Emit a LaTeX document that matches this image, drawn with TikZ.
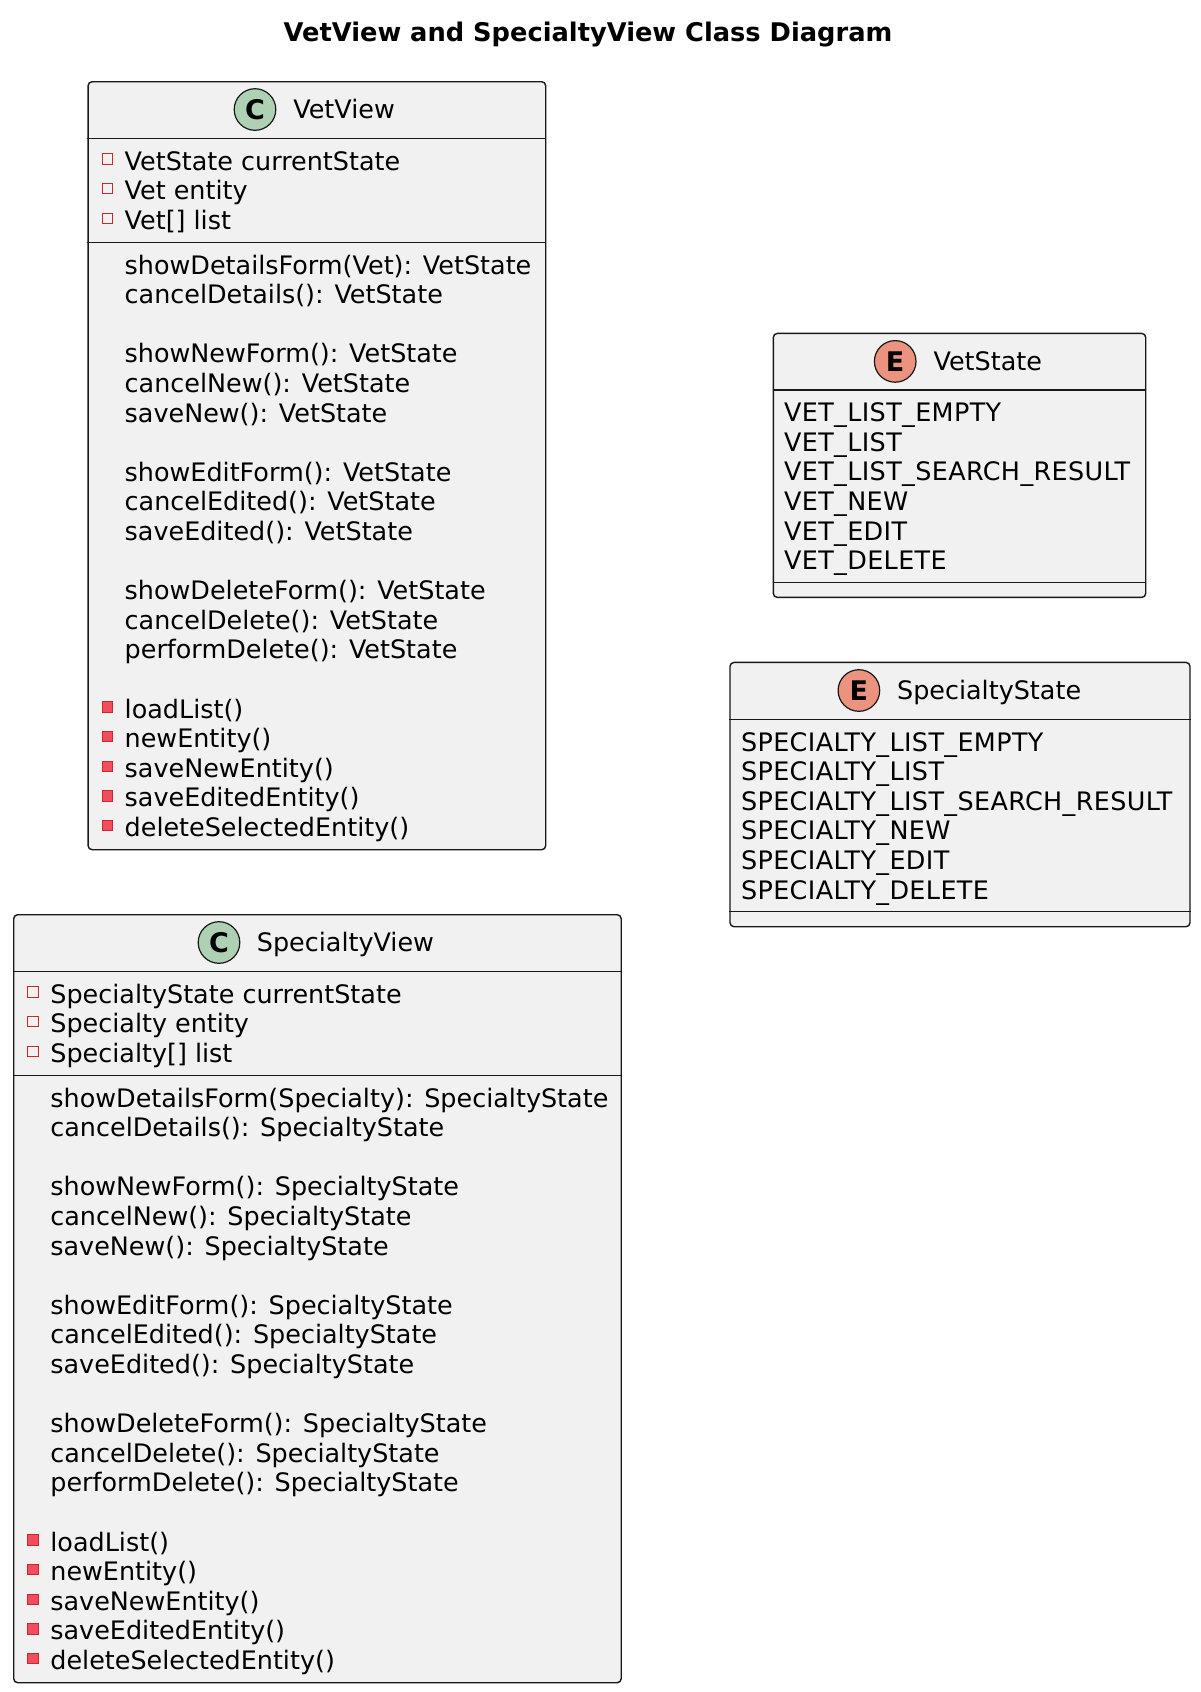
\documentclass[tikz,border=0pt]{standalone}
\usepackage{fontspec}
\setmainfont{DejaVu Sans}

\definecolor{umlfill}{HTML}{F1F1F1}
\definecolor{umlline}{HTML}{181818}
\definecolor{clsgreen}{HTML}{ADD1B2}
\definecolor{enumred}{HTML}{EB937F}
\definecolor{privred}{HTML}{C82930}
\definecolor{privfill}{HTML}{F24D5C}

\tikzset{
	umlbox/.style={draw=umlline, fill=umlfill, line width=0.7pt, rounded corners=2pt, anchor=north west, inner sep=0pt},
	sepline/.style={draw=umlline, line width=0.6pt},
	badge/.style={circle, draw=umlline, line width=0.6pt, minimum size=20.8pt, inner sep=0pt, font=\fontsize{13.5}{13.5}\selectfont\bfseries},
	clsbadge/.style={badge, fill=clsgreen},
	enumbadge/.style={badge, fill=enumred},
	member/.style={anchor=base west, inner sep=0pt, font=\fontsize{12.72}{14.8}\selectfont},
	constant/.style={member, font=\fontsize{12.72}{14.8}\selectfont\addfontfeatures{LetterSpace=1.5}},
	fieldicon/.style={draw=privred, fill=umlfill, line width=0.5pt, minimum size=5.2pt, inner sep=0pt},
	methicon/.style={draw=privred, fill=privfill, line width=0.5pt, minimum size=5.2pt, inner sep=0pt},
}

\begin{document}
\begin{tikzpicture}[x=0.5pt, y=-0.5pt]
		\useasboundingbox (0,0) rectangle (1200,1692);
		\node[anchor=base, inner sep=0pt, font=\fontsize{12.85}{14.8}\selectfont\bfseries] (title) at (588,41.7) {VetView and SpecialtyView Class Diagram};

		\node[umlbox, minimum width=228.8pt, minimum height=384pt] (vetview) at (87.4,81) {};
		\draw[sepline] (vetview.west |- 0,138.3) -- (vetview.east |- 0,138.3);
		\draw[sepline] (vetview.west |- 0,242.3) -- (vetview.east |- 0,242.3);
		\node[clsbadge] (vetviewC) at (255,109.5) {C};
		\node[member] (vetviewname) at (293,118.5) {VetView};
		\foreach \txt [count=\i from 0] in {VetState currentState, Vet entity, Vet[] list}{
			\node[fieldicon] (vvfi\i) at (107.5,159+\i*29.6) {};
			\node[member] (vvf\i) at (124.3,170+\i*29.6) {\txt};
		}
		\foreach \i/\txt in {0/showDetailsForm(Vet): VetState, 1/cancelDetails(): VetState,
			3/showNewForm(): VetState, 4/cancelNew(): VetState, 5/saveNew(): VetState,
			7/showEditForm(): VetState, 8/cancelEdited(): VetState, 9/saveEdited(): VetState,
			11/showDeleteForm(): VetState, 12/cancelDelete(): VetState, 13/performDelete(): VetState}
			\node[member] (vvm\i) at (124.3,274+\i*29.6) {\txt};
		\foreach \i/\txt in {15/loadList(), 16/newEntity(), 17/saveNewEntity(), 18/saveEditedEntity(), 19/deleteSelectedEntity()}{
			\node[methicon] (vvmi\i) at (107.5,263+\i*29.6) {};
			\node[member] (vvm\i) at (124.3,274+\i*29.6) {\txt};
		}

		\node[umlbox, minimum width=303.75pt, minimum height=384pt] (specview) at (13,914) {};
		\draw[sepline] (specview.west |- 0,971.3) -- (specview.east |- 0,971.3);
		\draw[sepline] (specview.west |- 0,1075.3) -- (specview.east |- 0,1075.3);
		\node[clsbadge] (specviewC) at (219,942.5) {C};
		\node[member] (specviewname) at (256.5,951.5) {SpecialtyView};
		\foreach \txt [count=\i from 0] in {SpecialtyState currentState, Specialty entity, Specialty[] list}{
			\node[fieldicon] (svfi\i) at (33.1,992+\i*29.6) {};
			\node[member] (svf\i) at (50,1003+\i*29.6) {\txt};
		}
		\foreach \i/\txt in {0/showDetailsForm(Specialty): SpecialtyState, 1/cancelDetails(): SpecialtyState,
			3/showNewForm(): SpecialtyState, 4/cancelNew(): SpecialtyState, 5/saveNew(): SpecialtyState,
			7/showEditForm(): SpecialtyState, 8/cancelEdited(): SpecialtyState, 9/saveEdited(): SpecialtyState,
			11/showDeleteForm(): SpecialtyState, 12/cancelDelete(): SpecialtyState, 13/performDelete(): SpecialtyState}
			\node[member] (svm\i) at (50,1107+\i*29.6) {\txt};
		\foreach \i/\txt in {15/loadList(), 16/newEntity(), 17/saveNewEntity(), 18/saveEditedEntity(), 19/deleteSelectedEntity()}{
			\node[methicon] (svmi\i) at (33.1,1096+\i*29.6) {};
			\node[member] (svm\i) at (50,1107+\i*29.6) {\txt};
		}

		\node[umlbox, minimum width=186.2pt, minimum height=132pt] (vetstate) at (772.6,332.7) {};
		\draw[sepline] (vetstate.west |- 0,390) -- (vetstate.east |- 0,390);
		\draw[sepline] (vetstate.west |- 0,582.3) -- (vetstate.east |- 0,582.3);
		\node[enumbadge] (vetstateE) at (895.2,361.4) {E};
		\node[member] (vetstatename) at (933.2,370.4) {VetState};
		\foreach \txt [count=\i from 0] in {VET\_LIST\_EMPTY, VET\_LIST, VET\_LIST\_SEARCH\_RESULT, VET\_NEW, VET\_EDIT, VET\_DELETE}
			\node[constant] (vs\i) at (783.6,421.7+\i*29.6) {\txt};

		\node[umlbox, minimum width=230pt, minimum height=132.15pt] (specstate) at (729.3,661.7) {};
		\draw[sepline] (specstate.west |- 0,719.3) -- (specstate.east |- 0,719.3);
		\draw[sepline] (specstate.west |- 0,911.7) -- (specstate.east |- 0,911.7);
		\node[enumbadge] (specstateE) at (858.9,690.5) {E};
		\node[member] (specstatename) at (896.7,699.5) {SpecialtyState};
		\foreach \txt [count=\i from 0] in {SPECIALTY\_LIST\_EMPTY, SPECIALTY\_LIST, SPECIALTY\_LIST\_SEARCH\_RESULT, SPECIALTY\_NEW, SPECIALTY\_EDIT, SPECIALTY\_DELETE}
			\node[constant] (ss\i) at (740.6,751+\i*29.6) {\txt};
\end{tikzpicture}
\end{document}
